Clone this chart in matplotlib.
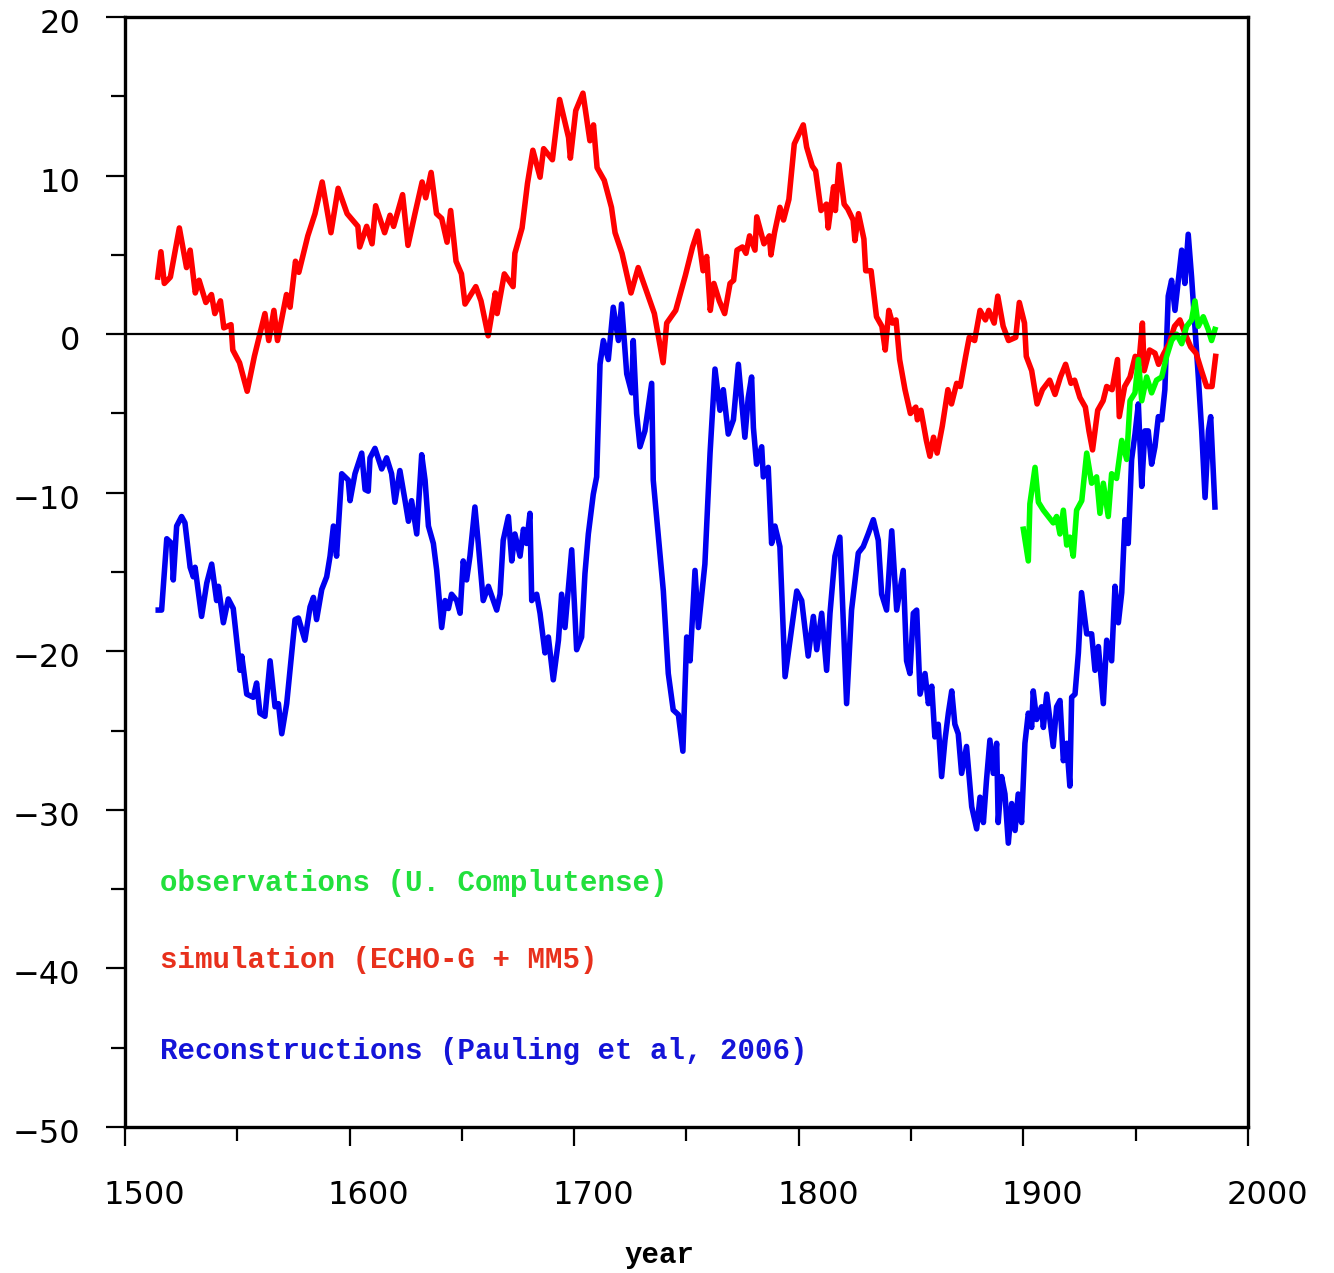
import matplotlib.pyplot as plt
import matplotlib.transforms as mtransforms
import numpy as np

# simulated series (ECHO-G + MM5)
sim_year = [1514.6, 1516.0, 1517.5, 1520.2, 1524.2, 1527.4, 1529.0, 1531.3, 1533.0, 1536.0,
            1538.5, 1540.0, 1542.5, 1544.0, 1547.2, 1548.0, 1551.0, 1554.4, 1557.6, 1562.3,
            1564.0, 1566.3, 1567.9, 1571.9, 1573.5, 1575.9, 1577.4, 1581.4, 1584.6, 1587.8,
            1591.7, 1594.9, 1598.9, 1603.7, 1604.5, 1607.6, 1610.0, 1611.6, 1615.6, 1618.0,
            1619.6, 1623.6, 1626.0, 1629.1, 1632.3, 1633.9, 1636.3, 1638.7, 1641.0, 1643.4,
            1645.0, 1647.4, 1649.8, 1651.4, 1656.2, 1658.5, 1661.7, 1664.9, 1665.7, 1668.9,
            1672.8, 1673.6, 1676.8, 1679.2, 1681.6, 1684.8, 1686.4, 1690.3, 1693.5, 1697.5,
            1698.3, 1700.7, 1703.9, 1707.0, 1708.6, 1710.2, 1713.4, 1716.6, 1718.2, 1721.3,
            1725.3, 1728.5, 1732.5, 1735.7, 1739.6, 1741.2, 1745.2, 1749.5, 1752.7, 1755.0,
            1757.4, 1759.0, 1760.6, 1762.2, 1764.6, 1767.0, 1769.4, 1771.0, 1772.5, 1774.9,
            1776.5, 1778.1, 1780.5, 1781.3, 1784.5, 1786.9, 1787.6, 1789.2, 1791.6, 1793.2,
            1795.6, 1798.0, 1802.0, 1803.5, 1806.0, 1807.5, 1809.9, 1812.3, 1813.1, 1815.5,
            1816.3, 1817.9, 1820.2, 1821.8, 1824.2, 1825.0, 1826.6, 1829.0, 1829.8, 1832.2,
            1834.6, 1837.0, 1838.5, 1840.1, 1841.7, 1843.3, 1844.9, 1847.3, 1849.7, 1852.1,
            1852.8, 1854.4, 1856.8, 1858.4, 1860.0, 1861.6, 1863.9, 1866.4, 1868.0, 1870.3,
            1871.9, 1874.3, 1875.9, 1878.3, 1880.7, 1883.1, 1884.6, 1887.0, 1888.6, 1891.0,
            1893.4, 1896.6, 1898.2, 1900.5, 1901.3, 1903.7, 1906.1, 1908.5, 1911.7, 1914.1,
            1916.5, 1918.8, 1921.2, 1922.8, 1925.2, 1927.6, 1929.2, 1930.8, 1933.1, 1935.5,
            1937.1, 1939.5, 1941.9, 1942.7, 1945.1, 1947.5, 1949.8, 1951.4, 1953.0, 1953.8,
            1956.2, 1958.6, 1960.2, 1962.6, 1964.9, 1967.3, 1969.7, 1972.1, 1974.5, 1976.9,
            1979.3, 1981.6, 1984.0, 1985.6]
sim_val = [3.6, 5.2, 3.2, 3.6, 6.7, 4.2, 5.3, 2.6, 3.4, 2.0,
           2.5, 1.3, 2.1, 0.4, 0.6, -1.0, -1.8, -3.6, -1.4, 1.3,
           -0.4, 1.5, -0.4, 2.5, 1.7, 4.6, 3.9, 6.2, 7.6, 9.6,
           6.4, 9.2, 7.6, 6.8, 5.5, 6.8, 5.7, 8.1, 6.4, 7.5,
           6.8, 8.8, 5.6, 7.6, 9.6, 8.6, 10.2, 7.6, 7.3, 5.8,
           7.8, 4.6, 3.8, 1.9, 3.0, 2.1, -0.1, 2.6, 1.3, 3.8,
           3.0, 5.1, 6.7, 9.5, 11.6, 9.9, 11.7, 11.0, 14.8, 12.4,
           11.1, 14.1, 15.2, 12.2, 13.2, 10.5, 9.7, 8.0, 6.4, 5.1,
           2.6, 4.2, 2.6, 1.3, -1.8, 0.7, 1.5, 3.7, 5.5, 6.5,
           4.0, 4.9, 1.5, 3.2, 2.1, 1.3, 3.2, 3.4, 5.3, 5.5,
           5.1, 6.2, 5.3, 7.4, 5.7, 6.2, 5.0, 6.4, 8.0, 7.2,
           8.5, 12.0, 13.2, 11.8, 10.6, 10.3, 7.8, 8.2, 6.7, 9.3,
           7.8, 10.7, 8.2, 7.9, 7.2, 5.9, 7.6, 6.0, 4.0, 4.0,
           1.1, 0.5, -1.0, 1.5, 0.7, 0.9, -1.6, -3.5, -5.0, -4.6,
           -5.4, -4.8, -6.7, -7.7, -6.5, -7.5, -5.8, -3.5, -4.4, -3.1,
           -3.3, -1.4, -0.2, -0.4, 1.5, 0.9, 1.5, 0.7, 2.4, 0.5,
           -0.4, -0.2, 2.0, 0.7, -1.4, -2.3, -4.4, -3.5, -2.9, -3.8,
           -2.7, -1.9, -3.1, -2.9, -4.0, -4.6, -6.1, -7.3, -4.8, -4.2,
           -3.3, -3.5, -1.6, -5.2, -3.3, -2.7, -1.4, -1.9, 0.7, -2.3,
           -1.0, -1.2, -1.9, -1.2, -0.6, 0.5, 0.9, 0.0, -0.8, -1.2,
           -2.3, -3.3, -3.3, -1.4]

# reconstruction series (Pauling et al, 2006)
rec_year = [1514.8, 1516.3, 1518.6, 1520.8, 1521.5, 1523.0, 1525.2, 1526.7, 1529.0, 1530.4,
            1531.2, 1534.1, 1536.4, 1538.6, 1540.8, 1541.6, 1543.8, 1546.0, 1548.2, 1551.2,
            1552.0, 1554.2, 1557.1, 1558.6, 1560.1, 1562.3, 1564.6, 1566.8, 1568.3, 1569.8,
            1572.0, 1575.7, 1577.2, 1580.1, 1582.4, 1583.9, 1585.3, 1587.6, 1589.8, 1591.3,
            1592.8, 1594.2, 1596.5, 1599.4, 1600.2, 1602.4, 1605.4, 1606.9, 1608.3, 1609.1,
            1611.3, 1614.3, 1616.5, 1618.7, 1620.2, 1622.4, 1624.7, 1626.2, 1627.6, 1629.9,
            1632.1, 1633.6, 1635.1, 1637.3, 1638.8, 1641.0, 1642.5, 1644.0, 1645.4, 1647.7,
            1649.2, 1650.6, 1652.1, 1653.6, 1655.8, 1657.3, 1659.5, 1661.8, 1665.5, 1667.0,
            1668.4, 1670.7, 1672.2, 1673.6, 1675.9, 1677.4, 1678.8, 1680.3, 1681.1, 1683.3,
            1684.8, 1687.0, 1688.5, 1690.7, 1693.0, 1694.4, 1695.9, 1698.9, 1701.1, 1703.3,
            1704.8, 1706.3, 1708.5, 1710.0, 1711.5, 1713.0, 1715.2, 1717.4, 1719.7, 1721.1,
            1723.4, 1725.6, 1726.3, 1727.8, 1729.3, 1731.5, 1734.5, 1735.2, 1737.5, 1739.7,
            1741.9, 1744.1, 1746.4, 1748.4, 1750.1, 1751.6, 1753.8, 1755.3, 1758.2, 1760.5,
            1762.7, 1764.9, 1766.4, 1768.6, 1770.9, 1773.1, 1776.0, 1777.5, 1779.0, 1779.8,
            1781.2, 1783.5, 1784.2, 1786.4, 1787.9, 1789.4, 1791.6, 1793.9, 1796.1, 1799.1,
            1801.3, 1804.2, 1806.5, 1808.0, 1810.2, 1812.4, 1813.9, 1816.1, 1818.3, 1821.3,
            1823.5, 1826.5, 1828.7, 1830.9, 1833.2, 1835.4, 1836.9, 1839.1, 1841.4, 1843.6,
            1846.5, 1848.0, 1849.5, 1851.0, 1852.5, 1854.0, 1856.2, 1857.7, 1859.2, 1860.6,
            1862.1, 1863.6, 1865.1, 1866.6, 1868.1, 1869.5, 1871.0, 1872.5, 1874.7, 1877.0,
            1879.2, 1880.7, 1882.2, 1883.6, 1885.1, 1886.6, 1888.1, 1888.8, 1890.3, 1891.8,
            1893.3, 1894.8, 1896.3, 1897.7, 1899.2, 1900.7, 1902.2, 1903.7, 1904.4, 1905.9,
            1908.1, 1908.9, 1910.4, 1911.8, 1913.3, 1914.8, 1916.3, 1917.8, 1919.3, 1920.7,
            1921.5, 1923.0, 1924.5, 1925.9, 1928.2, 1930.4, 1931.9, 1933.4, 1935.6, 1937.1,
            1939.3, 1940.8, 1942.3, 1943.8, 1945.2, 1946.7, 1948.2, 1949.7, 1951.2, 1952.7,
            1954.1, 1955.6, 1957.1, 1958.6, 1960.1, 1961.6, 1963.0, 1964.5, 1966.0, 1967.5,
            1969.0, 1970.5, 1971.9, 1973.4, 1974.9, 1976.4, 1977.9, 1979.4, 1980.9, 1982.4,
            1983.4, 1985.3]
rec_val = [-17.4, -17.4, -12.9, -13.2, -15.5, -12.1, -11.5, -11.9, -14.7, -15.3,
           -14.7, -17.8, -15.7, -14.5, -16.8, -15.9, -18.2, -16.7, -17.3, -21.2,
           -20.3, -22.7, -22.9, -22.0, -23.9, -24.1, -20.6, -23.5, -23.3, -25.2,
           -23.3, -18.0, -17.9, -19.3, -17.2, -16.6, -18.0, -16.1, -15.3, -14.0,
           -12.1, -14.0, -8.8, -9.2, -10.5, -8.8, -7.5, -9.8, -9.9, -7.8,
           -7.2, -8.5, -7.8, -8.8, -10.6, -8.6, -10.5, -11.8, -10.5, -12.6,
           -7.6, -9.2, -12.1, -13.2, -14.9, -18.5, -16.8, -17.3, -16.4, -16.8,
           -17.6, -14.3, -15.5, -14.0, -10.9, -13.2, -16.8, -15.9, -17.4, -16.4,
           -13.0, -11.5, -14.3, -12.6, -14.0, -12.3, -13.2, -11.3, -16.8, -16.4,
           -17.6, -20.1, -19.1, -21.8, -19.3, -16.4, -18.5, -13.6, -19.9, -19.1,
           -15.1, -12.6, -10.1, -9.0, -1.9, -0.4, -1.6, 1.7, -0.4, 1.9,
           -2.5, -3.7, -0.4, -5.0, -7.1, -6.1, -3.1, -9.2, -12.8, -16.2,
           -21.4, -23.7, -24.0, -26.3, -19.1, -20.6, -14.9, -18.5, -14.5, -7.5,
           -2.2, -4.8, -3.5, -6.3, -5.4, -1.9, -6.5, -4.0, -2.7, -5.9,
           -8.2, -7.1, -9.0, -8.4, -13.2, -12.1, -13.4, -21.6, -19.3, -16.2,
           -16.8, -20.3, -17.8, -19.9, -17.6, -21.2, -17.6, -14.0, -12.8, -23.3,
           -17.4, -13.8, -13.4, -12.6, -11.7, -13.0, -16.4, -17.4, -12.4, -17.4,
           -14.9, -20.6, -21.4, -17.6, -17.4, -22.7, -21.4, -23.3, -22.2, -25.4,
           -24.6, -27.9, -25.6, -23.9, -22.5, -24.6, -25.2, -27.7, -26.0, -29.8,
           -31.2, -29.2, -30.8, -28.1, -25.6, -27.7, -25.8, -30.8, -27.9, -29.0,
           -32.1, -29.6, -31.3, -29.0, -30.8, -25.8, -23.9, -24.8, -22.5, -24.3,
           -23.5, -24.8, -22.7, -24.3, -26.0, -23.5, -23.1, -26.9, -25.8, -28.5,
           -22.9, -22.7, -20.1, -16.3, -18.9, -18.9, -21.2, -19.7, -23.3, -19.3,
           -20.6, -15.9, -18.2, -16.3, -11.7, -13.2, -7.9, -6.3, -4.4, -9.6,
           -6.1, -6.1, -8.2, -7.1, -5.2, -5.4, -3.5, 2.4, 3.4, 1.5,
           3.4, 5.3, 3.2, 6.3, 3.6, 0.5, -2.7, -6.1, -10.3, -6.1,
           -5.2, -10.9]

# observed series (U. Complutense)
obs_year = [1900.0, 1902.2, 1902.9, 1905.2, 1906.7, 1908.9, 1911.1, 1913.3, 1914.8, 1916.3,
            1917.8, 1919.3, 1920.7, 1922.2, 1923.7, 1926.0, 1928.2, 1930.4, 1932.6, 1934.1,
            1935.6, 1937.8, 1939.3, 1941.5, 1943.8, 1946.0, 1947.5, 1949.7, 1951.2, 1952.7,
            1954.9, 1957.1, 1959.3, 1961.6, 1963.8, 1966.0, 1968.2, 1970.5, 1972.7, 1974.9,
            1976.4, 1977.9, 1980.1, 1982.3, 1983.8, 1985.3]
obs_val = [-12.3, -14.3, -10.7, -8.4, -10.6, -11.1, -11.5, -11.9, -11.5, -12.6,
           -11.1, -13.3, -12.8, -14.0, -11.1, -10.5, -7.5, -9.4, -9.0, -11.3,
           -9.4, -11.5, -8.8, -9.1, -6.7, -7.9, -4.2, -3.7, -1.6, -4.2,
           -2.7, -3.7, -2.9, -2.7, -1.4, -0.4, 0.0, -0.6, 0.5, 0.9,
           2.1, 0.5, 1.1, 0.3, -0.4, 0.3]

labels = ['observations (U. Complutense)',
          'simulation (ECHO-G + MM5)',
          'Reconstructions (Pauling et al, 2006)']
label_colors = ['#22e03c', '#e8301c', '#1414d8']
label_y = [-34.6, -39.5, -45.2]

fig = plt.figure(figsize=(13.34, 12.73), dpi=100)
ax = fig.add_axes([0.0937, 0.1147, 0.8418, 0.8719])

ax.plot(rec_year, rec_val, color='#0000f0', lw=4.0)
ax.plot(sim_year, sim_val, color='#ff0000', lw=4.0)
ax.plot(obs_year, obs_val, color='#00ff00', lw=4.0)
ax.axhline(0, color='black', lw=1.6, zorder=5)

ax.set_xlim(1500, 2000)
ax.set_ylim(-50, 20)
ax.set_xticks(np.arange(1500, 2001, 100))
ax.set_xticks(np.arange(1550, 2000, 100), minor=True)
ax.set_yticks(np.arange(-50, 21, 10))
ax.set_yticks(np.arange(-45, 20, 10), minor=True)
ax.tick_params(which='major', direction='out', length=14, width=1.6, labelsize=23)
ax.tick_params(which='minor', direction='out', length=10, width=1.6)
ax.tick_params(axis='x', pad=24)
ax.tick_params(axis='y', pad=18)
for s in ax.spines.values():
    s.set_linewidth(2.4)

# year labels sit a little to the right of their ticks
shift = mtransforms.ScaledTranslation(0.19, 0, fig.dpi_scale_trans)
for lab in ax.get_xticklabels():
    lab.set_transform(lab.get_transform() + shift)
ylab_shift = mtransforms.ScaledTranslation(0, -0.04, fig.dpi_scale_trans)
for lab in ax.get_yticklabels():
    lab.set_transform(lab.get_transform() + ylab_shift)

ax.set_xlabel('year', fontsize=21, fontweight='bold', family='Liberation Mono')
ax.xaxis.set_label_coords(0.476, -0.103)

# series labels written inside the plot
for lab, col, ty in zip(labels, label_colors, label_y):
    ax.text(1515.5, ty, lab, color=col, fontsize=21, fontweight='bold',
            family='Liberation Mono', va='center', ha='left')

fig.savefig('out.png', dpi=100)
